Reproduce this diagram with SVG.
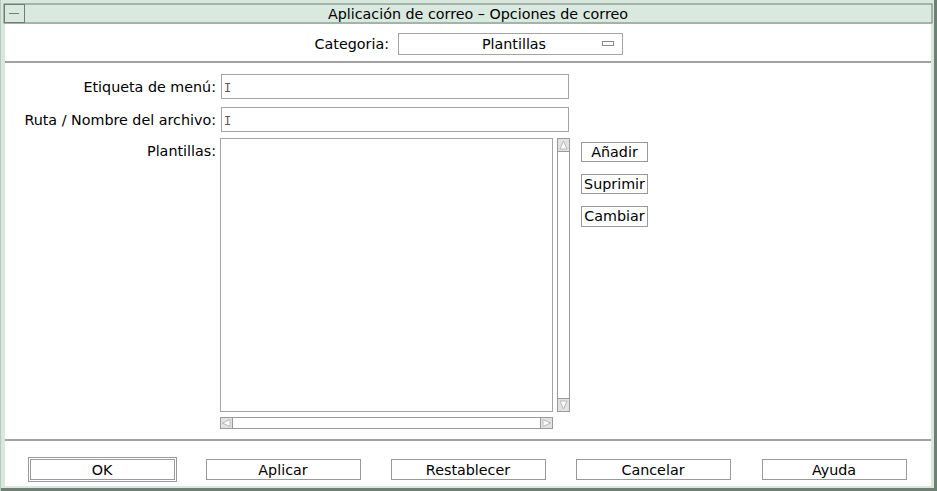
<svg xmlns="http://www.w3.org/2000/svg" width="937" height="491" viewBox="0 0 937 491">
<style>
text{font-family:"DejaVu Sans","Liberation Sans",sans-serif;font-size:14.3px;fill:#000}
.r{text-anchor:end}
.c{text-anchor:middle}
.fld{fill:#fff;stroke:#a4a4a4;stroke-width:1}
.btn{fill:#fff;stroke:#9a9a9a;stroke-width:1}
.sb{fill:#fff;stroke:#9a9a9a;stroke-width:1}
.sep{stroke:#a0a0a0;stroke-width:2}
.arr{fill:#fff;stroke:#b8b8b8;stroke-width:1}
.cur{font-family:"Liberation Mono",monospace;font-size:12px;fill:#555}
</style>
<rect x="0" y="0" width="937" height="491" fill="#d8e8dc"/>
<line x1="935.5" y1="0" x2="935.5" y2="491" stroke="#6f7f74" stroke-width="3"/>
<line x1="0" y1="489.5" x2="937" y2="489.5" stroke="#6f7f74" stroke-width="3"/>
<line x1="0.5" y1="0" x2="0.5" y2="491" stroke="#b9c9bd"/>
<g id="titlebar">
<rect x="4" y="4" width="928" height="19" fill="#d9e9df" stroke="#6f7f74" stroke-width="1"/>
<rect x="4.5" y="4.5" width="20" height="18" fill="#d9e9df" stroke="#6f7f74" stroke-width="1"/>
<line x1="9" y1="13.5" x2="19" y2="13.5" stroke="#6f7f74"/>
<text x="478" y="19" class="c">Aplicación de correo – Opciones de correo</text>
</g>
<rect x="5" y="24" width="926" height="462" fill="#fff"/>
<line x1="5" y1="62" x2="931" y2="62" class="sep"/>
<line x1="5" y1="440" x2="931" y2="440" class="sep"/>
<g id="categoria">
<text x="389" y="49" class="r">Categoria:</text>
<rect x="398.5" y="33.5" width="224" height="21" class="fld"/>
<text x="514" y="49" class="c">Plantillas</text>
<rect x="602.5" y="41.5" width="11" height="4" fill="#fff" stroke="#8a8a8a"/>
</g>
<g id="etiqueta">
<text x="216" y="92" class="r">Etiqueta de menú:</text>
<rect x="221.5" y="74.5" width="347" height="24" class="fld"/>
<text x="224" y="92" class="cur">I</text>
</g>
<g id="ruta">
<text x="216" y="125" class="r">Ruta / Nombre del archivo:</text>
<rect x="221.5" y="107.5" width="347" height="24" class="fld"/>
<text x="224" y="125" class="cur">I</text>
</g>
<g id="plantillas">
<text x="216" y="156" class="r">Plantillas:</text>
<rect x="220.5" y="138.5" width="332" height="273" class="fld"/>
<rect x="557.5" y="138.5" width="12" height="273" class="sb"/>
<path d="M558 139 h11 v12 h-11 z" fill="#e2e2e2"/>
<path d="M560 149 L563.5 141 L567 149 Z" class="arr"/>
<path d="M558 399 h11 v12 h-11 z" fill="#e2e2e2"/>
<path d="M560 401 L563.5 409 L567 401 Z" class="arr"/>
<line x1="558" y1="151.5" x2="569" y2="151.5" stroke="#9a9a9a"/>
<line x1="558" y1="398.5" x2="569" y2="398.5" stroke="#9a9a9a"/>
<rect x="220.5" y="417.5" width="332" height="11" class="sb"/>
<path d="M221 418 h11 v10 h-11 z" fill="#e2e2e2"/>
<path d="M230 419.5 L222.5 423 L230 426.5 Z" class="arr"/>
<path d="M541 418 h11 v10 h-11 z" fill="#e2e2e2"/>
<path d="M543 419.5 L550.5 423 L543 426.5 Z" class="arr"/>
<line x1="232.5" y1="418" x2="232.5" y2="428" stroke="#9a9a9a"/>
<line x1="540.5" y1="418" x2="540.5" y2="428" stroke="#9a9a9a"/>
</g>
<g id="btn-anadir">
<rect x="581.5" y="142.5" width="66" height="19" class="btn"/>
<text x="614.5" y="157" class="c">Añadir</text>
</g>
<g id="btn-suprimir">
<rect x="581.5" y="174.5" width="66" height="19" class="btn"/>
<text x="614.5" y="189" class="c">Suprimir</text>
</g>
<g id="btn-cambiar">
<rect x="581.5" y="206.5" width="66" height="20" class="btn"/>
<text x="614.5" y="221" class="c">Cambiar</text>
</g>
<g id="btn-ok">
<rect x="28.5" y="457.5" width="148" height="24" class="btn"/>
<rect x="30.5" y="459.5" width="144" height="20" class="btn"/>
<text x="102" y="475" class="c">OK</text>
</g>
<g id="btn-aplicar">
<rect x="206.5" y="459.5" width="154" height="20" class="btn"/>
<text x="283" y="475" class="c">Aplicar</text>
</g>
<g id="btn-restablecer">
<rect x="391.5" y="459.5" width="154" height="20" class="btn"/>
<text x="468" y="475" class="c">Restablecer</text>
</g>
<g id="btn-cancelar">
<rect x="576.5" y="459.5" width="154" height="20" class="btn"/>
<text x="653" y="475" class="c">Cancelar</text>
</g>
<g id="btn-ayuda">
<rect x="762.5" y="459.5" width="144" height="20" class="btn"/>
<text x="834" y="475" class="c">Ayuda</text>
</g>
<g id="connectors"></g>
</svg>
